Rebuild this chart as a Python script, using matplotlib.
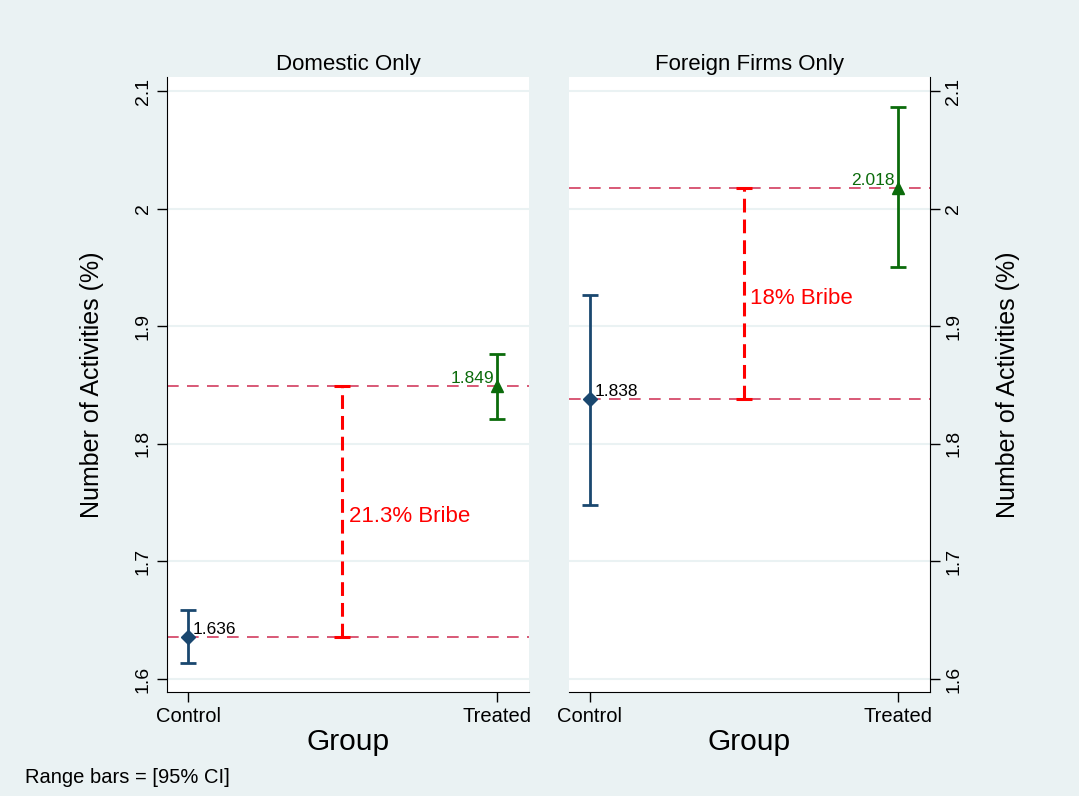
import matplotlib.pyplot as plt

plt.rcParams['font.family'] = ['Liberation Sans', 'DejaVu Sans']

groups = ["Control", "Treated"]
panels = ["Domestic Only", "Foreign Firms Only"]

domestic_means = [1.636, 1.849]
domestic_lo = [1.6136, 1.8211]
domestic_hi = [1.6587, 1.8764]

foreign_means = [1.838, 2.018]
foreign_lo = [1.748, 1.9503]
foreign_hi = [1.9265, 2.0864]

bribe_labels = ["21.3% Bribe", "18% Bribe"]
yticks = [1.6, 1.7, 1.8, 1.9, 2.0, 2.1]
ytick_labels = ["1.6", "1.7", "1.8", "1.9", "2", "2.1"]

bg = "#eaf2f3"
navy = "#1a476f"
green = "#0b6b0b"
dash_col = "#d23c5f"

fig = plt.figure(figsize=(10.79, 7.96), dpi=100, facecolor=bg)
ax1 = fig.add_axes([0.1548, 0.1307, 0.3355, 0.7726])
ax2 = fig.add_axes([0.5273, 0.1307, 0.3346, 0.7726])

data = [
    (ax1, domestic_means, domestic_lo, domestic_hi),
    (ax2, foreign_means, foreign_lo, foreign_hi),
]

for i, (ax, means, lo, hi) in enumerate(data):
    ax.set_facecolor("white")
    ax.set_xlim(-0.068, 1.104)
    ax.set_ylim(1.589, 2.112)
    for y in yticks:
        ax.axhline(y, color=bg, lw=1.5, zorder=0)

    # reference lines at the two means
    for m in means:
        ax.axhline(m, color=dash_col, lw=1.2, linestyle=(0, (7, 5)), zorder=1)

    # bribe gap bar
    mid = (means[0] + means[1]) / 2
    half = (means[1] - means[0]) / 2
    eb = ax.errorbar(0.5, mid, yerr=half, fmt="none", ecolor="red",
                     elinewidth=2.2, capsize=6, capthick=2.2, zorder=2)
    eb[2][0].set_linestyle((0, (4.5, 2.3)))
    ax.text(0.52, mid - 0.004, bribe_labels[i], color="red", fontsize=16,
            va="center", ha="left")

    # confidence intervals
    cols = [navy, green]
    mks = ["D", "^"]
    for j in range(2):
        ax.errorbar(j, means[j],
                    yerr=[[means[j] - lo[j]], [hi[j] - means[j]]],
                    fmt=mks[j], color=cols[j], ms=8 if j else 7,
                    elinewidth=2, capsize=6, capthick=2, zorder=3)
    ax.text(0.015, means[0], f"{means[0]:.3f}",
            color="black", fontsize=12.5, ha="left", va="bottom")
    ax.text(0.99, means[1], f"{means[1]:.3f}",
            color=green, fontsize=12.5, ha="right", va="bottom")

    ax.set_xticks([0, 1])
    ax.set_xticklabels(groups, fontsize=14.5)
    ax.set_yticks(yticks)
    ax.set_yticklabels(ytick_labels, fontsize=14, rotation=90, va="center")
    ax.set_xlabel("Group", fontsize=21.5, labelpad=1)
    ax.set_title(panels[i], fontsize=16, pad=5)
    ax.tick_params(axis="both", length=7, width=1, color="black", pad=4)
    ax.spines["top"].set_visible(False)

ax1.spines["right"].set_visible(False)
ax1.set_ylabel("Number of Activities (%)", fontsize=18, labelpad=22)

ax2.spines["left"].set_visible(False)
ax2.yaxis.tick_right()
ax2.yaxis.set_label_position("right")
ax2.set_ylabel("Number of Activities (%)", fontsize=18, labelpad=24, rotation=90)

fig.text(0.023, 0.016, "Range bars = [95% CI]", fontsize=14.5)

plt.savefig("out.png", dpi=100, facecolor=bg)
